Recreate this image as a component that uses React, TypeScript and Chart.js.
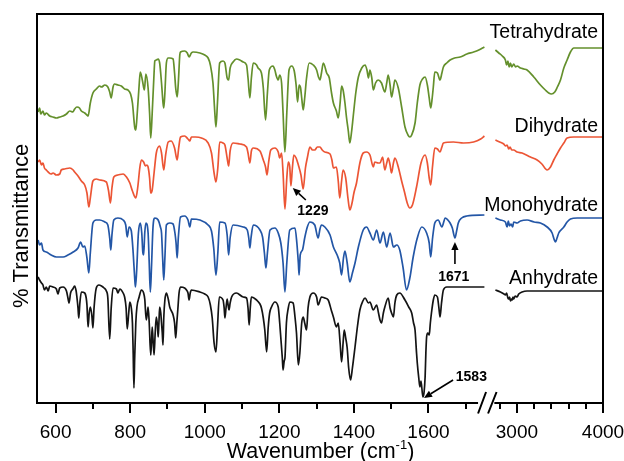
import React, { useEffect, useRef } from 'react';
import { Chart, registerables } from 'chart.js';

Chart.register(...registerables);

// ---------- broken wavenumber axis (cm-1) ----------
const lowRange = [550, 1750];
const highRange = [2750, 4000];
const breakGap = 29.5; // axis units between the two segments
const highRatio = 0.2309; // compression of the high segment
const majorTicks = [600, 800, 1000, 1200, 1400, 1600, 3000, 4000];
const minorTicks = [700, 900, 1100, 1300, 1500, 1700, 2800, 3200, 3400, 3600, 3800];

const toAxis = (v: number) =>
  v <= lowRange[1] ? v : lowRange[1] + breakGap + (v - highRange[0]) * highRatio;

// ---------- series: [wavenumber, transmittance (offset, arb. units)] ----------
const tetraLow: [number, number][] = [
  [553,291],[557,295],[560,289],[566,292],[570,288],[575,290],[584,287],[593,286],[602,285],[611,286],[620,287],[629,289],[638,292],[646,291],[651,294],[657,296],[664,295],[669,292],[678,290],[684,288],[687,287],[693,300],[700,310],[709,314],[718,317],[723,316],[732,318],[740,316],[745,311],[749,305],[754,316],[758,319],[767,318],[776,317],[785,314],[794,313],[801,309],[806,300],[812,276],[815,273],[818,285],[824,318],[827,331],[833,322],[838,313],[842,329],[848,315],[852,290],[855,265],[859,290],[864,330],[866,342],[870,343],[875,344],[879,340],[884,320],[888,300],[890,295],[893,310],[897,340],[902,345],[906,345],[915,344],[919,330],[922,315],[926,306],[929,320],[933,348],[935,351],[946,352],[953,350],[958,346],[964,350],[969,351],[987,350],[1000,348],[1009,345],[1015,338],[1022,320],[1027,290],[1030,276],[1034,300],[1040,340],[1049,342],[1054,340],[1060,325],[1064,323],[1068,335],[1076,341],[1085,344],[1094,343],[1103,341],[1112,338],[1116,325],[1121,305],[1125,325],[1130,340],[1139,338],[1143,335],[1152,330],[1157,315],[1163,283],[1168,310],[1173,333],[1183,337],[1188,333],[1192,327],[1197,323],[1201,328],[1206,320],[1210,290],[1215,251],[1220,290],[1226,333],[1233,337],[1240,332],[1245,318],[1249,301],[1253,318],[1257,315],[1260,305],[1264,293],[1268,305],[1273,325],[1280,340],[1291,338],[1300,333],[1305,326],[1309,323],[1313,330],[1318,340],[1327,330],[1334,325],[1340,310],[1345,300],[1353,292],[1358,285],[1363,300],[1367,317],[1371,313],[1376,300],[1380,286],[1385,272],[1389,260],[1394,272],[1398,286],[1405,310],[1412,326],[1421,335],[1430,338],[1435,333],[1439,325],[1443,333],[1448,325],[1452,313],[1458,320],[1465,323],[1474,320],[1483,311],[1488,320],[1492,328],[1497,318],[1501,306],[1506,315],[1510,323],[1519,315],[1528,296],[1537,276],[1545,268],[1550,266],[1555,268],[1564,280],[1570,300],[1577,318],[1584,324],[1591,326],[1597,318],[1602,305],[1606,295],[1610,305],[1613,316],[1617,331],[1624,330],[1631,323],[1636,330],[1640,336],[1649,340],[1658,343],[1670,345],[1685,346],[1703,349],[1721,351],[1735,353],[1750,356]
];
const tetraHigh: [number, number][] = [
  [2750,353],[2790,350],[2830,347],[2866,343],[2880,338],[2895,342],[2910,336],[2925,340],[2940,336],[2963,339],[2985,336],[3002,337],[3041,335],[3080,334],[3118,333],[3196,326],[3273,318],[3330,313],[3370,310],[3400,309],[3440,311],[3470,316],[3506,323],[3545,335],[3583,343],[3622,351],[3661,355],[3738,355],[3850,355],[4000,355]
];

const diLow: [number, number][] = [
  [553,241],[557,243],[562,238],[566,240],[570,235],[575,233],[580,231],[588,229],[593,230],[602,228],[611,229],[615,233],[624,234],[638,235],[647,233],[651,231],[660,227],[669,222],[678,218],[684,210],[689,196],[693,205],[700,222],[709,224],[718,223],[736,221],[742,212],[747,200],[751,215],[756,226],[767,228],[781,229],[790,226],[799,220],[806,212],[815,205],[820,215],[826,236],[830,243],[836,241],[841,237],[845,238],[848,236],[852,225],[855,210],[859,213],[864,230],[870,250],[879,257],[884,250],[890,233],[895,248],[902,261],[910,262],[919,255],[926,243],[930,255],[935,266],[946,267],[955,264],[960,262],[964,266],[975,266],[991,265],[1009,260],[1018,250],[1025,230],[1030,221],[1035,235],[1040,261],[1049,260],[1054,258],[1060,245],[1064,237],[1068,252],[1076,260],[1094,259],[1112,256],[1116,250],[1121,240],[1125,252],[1130,255],[1148,252],[1157,243],[1163,236],[1167,228],[1171,240],[1177,253],[1188,255],[1197,251],[1201,245],[1206,250],[1210,230],[1215,194],[1220,225],[1224,241],[1228,236],[1231,217],[1235,235],[1239,248],[1245,245],[1251,238],[1258,228],[1264,214],[1270,235],[1275,245],[1282,256],[1289,253],[1295,253],[1302,256],[1309,256],[1315,253],[1322,251],[1336,249],[1341,243],[1345,235],[1353,236],[1358,222],[1362,205],[1367,222],[1371,233],[1378,225],[1384,205],[1389,193],[1395,200],[1400,210],[1407,220],[1416,240],[1425,250],[1434,251],[1443,248],[1452,236],[1456,241],[1465,240],[1470,240],[1477,246],[1483,233],[1488,240],[1492,245],[1497,238],[1501,230],[1506,240],[1510,245],[1519,236],[1528,222],[1535,212],[1543,200],[1550,195],[1557,198],[1568,216],[1580,240],[1591,248],[1597,240],[1602,225],[1606,218],[1611,237],[1617,255],[1624,254],[1631,251],[1636,256],[1640,260],[1667,261],[1694,260],[1721,261],[1740,264],[1750,267]
];
const diHigh: [number, number][] = [
  [2750,263],[2800,261],[2847,259],[2870,257],[2886,258],[2905,254],[2920,256],[2940,253],[2963,253],[3002,251],[3060,250],[3157,246],[3235,243],[3290,239],[3351,233],[3390,236],[3428,243],[3466,249],[3506,255],[3545,260],[3583,265],[3661,266],[3800,266],[4000,266]
];

const monoLow: [number, number][] = [
  [553,163],[557,158],[562,160],[566,153],[575,151],[588,148],[602,146],[620,146],[633,148],[647,151],[660,155],[667,161],[673,156],[678,157],[684,145],[689,130],[693,150],[700,180],[709,183],[718,183],[732,181],[740,178],[745,165],[748,153],[751,168],[756,183],[767,185],[781,183],[788,178],[792,166],[797,176],[803,172],[808,150],[812,125],[814,116],[817,130],[822,170],[827,180],[831,170],[834,150],[836,148],[839,170],[842,180],[848,170],[851,140],[854,111],[857,135],[861,175],[866,185],[875,183],[881,176],[884,170],[887,145],[890,123],[893,145],[897,178],[906,180],[915,179],[920,170],[923,160],[926,145],[929,165],[935,186],[946,187],[955,183],[960,176],[964,184],[987,183],[1009,178],[1018,172],[1024,155],[1030,128],[1035,150],[1040,181],[1054,180],[1060,168],[1064,148],[1068,165],[1076,178],[1103,176],[1114,173],[1118,165],[1121,155],[1124,165],[1130,178],[1148,173],[1155,166],[1160,150],[1164,135],[1168,150],[1175,173],[1188,175],[1197,170],[1204,160],[1210,140],[1215,111],[1220,140],[1228,173],[1242,175],[1247,160],[1251,140],[1253,128],[1256,148],[1262,153],[1268,165],[1275,176],[1282,181],[1295,178],[1304,165],[1309,174],[1313,178],[1322,176],[1336,168],[1345,156],[1355,148],[1362,140],[1367,128],[1372,145],[1376,152],[1382,140],[1389,121],[1396,130],[1403,140],[1412,156],[1425,173],[1434,176],[1443,170],[1452,163],[1461,173],[1470,160],[1479,171],[1488,156],[1497,170],[1506,156],[1515,158],[1523,153],[1532,135],[1541,113],[1550,125],[1559,146],[1570,165],[1582,176],[1595,170],[1602,160],[1606,146],[1611,165],[1617,180],[1626,183],[1636,176],[1645,185],[1652,183],[1658,180],[1664,175],[1671,165],[1676,173],[1680,180],[1689,185],[1703,187],[1750,188]
];
const monoHigh: [number, number][] = [
  [2750,185],[2808,183],[2866,181],[2886,176],[2900,182],[2915,177],[2932,179],[2950,176],[2963,181],[3002,180],[3041,182],[3118,183],[3200,181],[3273,180],[3351,176],[3409,170],[3435,163],[3448,161],[3466,165],[3486,170],[3545,176],[3583,181],[3622,184],[3700,185],[4000,185]
];

const anLow: [number, number][] = [
  [553,126],[557,123],[562,120],[566,118],[570,113],[575,116],[580,112],[584,117],[593,116],[602,114],[606,109],[611,115],[620,116],[629,112],[633,105],[636,100],[640,110],[646,114],[651,117],[655,112],[657,106],[660,95],[662,85],[665,100],[669,111],[678,110],[682,105],[684,98],[687,76],[690,90],[693,96],[697,88],[700,75],[703,95],[709,115],[716,118],[723,117],[730,115],[736,112],[740,105],[745,64],[749,95],[754,115],[763,114],[767,110],[772,114],[776,113],[781,110],[785,106],[789,95],[792,74],[796,90],[799,101],[803,95],[806,80],[808,50],[810,15],[812,45],[815,80],[818,96],[824,106],[830,113],[836,110],[839,104],[843,83],[846,90],[848,96],[851,80],[855,48],[857,60],[859,76],[861,65],[864,48],[867,70],[870,86],[873,78],[875,66],[877,80],[879,96],[882,90],[884,80],[886,70],[888,58],[890,85],[893,103],[897,110],[902,104],[906,96],[915,88],[919,80],[922,65],[925,80],[928,95],[931,110],[935,116],[946,115],[951,113],[955,110],[958,103],[961,110],[964,113],[987,111],[1000,109],[1009,106],[1015,98],[1020,85],[1025,60],[1030,51],[1034,75],[1039,106],[1049,103],[1052,95],[1054,85],[1057,95],[1060,104],[1063,97],[1065,93],[1068,100],[1072,106],[1085,110],[1103,106],[1112,105],[1116,95],[1119,78],[1122,95],[1125,106],[1139,103],[1148,99],[1152,95],[1157,85],[1161,73],[1166,51],[1170,75],[1174,90],[1179,96],[1188,101],[1197,96],[1201,80],[1204,65],[1208,45],[1210,33],[1213,42],[1215,45],[1219,80],[1224,95],[1228,101],[1237,100],[1242,86],[1246,70],[1251,38],[1255,50],[1260,80],[1264,86],[1268,80],[1273,73],[1277,95],[1282,106],[1291,110],[1300,106],[1304,98],[1313,106],[1322,105],[1331,103],[1340,92],[1345,86],[1353,76],[1358,80],[1363,60],[1367,41],[1371,60],[1374,73],[1378,65],[1382,55],[1386,35],[1391,23],[1396,35],[1403,56],[1410,78],[1416,93],[1424,102],[1430,105],[1439,100],[1443,101],[1452,93],[1461,98],[1466,90],[1470,83],[1474,80],[1479,90],[1483,96],[1492,105],[1497,95],[1501,90],[1506,86],[1510,100],[1515,108],[1523,110],[1537,103],[1547,96],[1555,90],[1560,80],[1564,73],[1568,50],[1570,40],[1574,25],[1577,16],[1580,22],[1585,6],[1588,10],[1591,26],[1593,50],[1595,66],[1598,70],[1602,68],[1605,80],[1608,90],[1613,103],[1617,108],[1624,106],[1628,95],[1631,86],[1635,100],[1640,113],[1649,116],[1703,116],[1750,116]
];
const anHigh: [number, number][] = [
  [2750,113],[2808,111],[2850,109],[2866,108],[2880,110],[2895,105],[2905,104],[2915,106],[2925,102],[2935,104],[2944,103],[2955,106],[2963,104],[2980,107],[3002,106],[3021,109],[3060,111],[3118,112],[3300,112],[4000,112]
];

const seriesNames = ['Tetrahydrate', 'Dihydrate', 'Monohydrate', 'Anhydrate'];
const seriesColors = ['#64902c', '#ec5535', '#2356a6', '#141414'];
const seriesParts = [
  [tetraLow, tetraHigh],
  [diLow, diHigh],
  [monoLow, monoHigh],
  [anLow, anHigh],
];

// peak annotations: label position and arrow (wavenumber, value)
const annotations = [
  { text: '1229', at: [1290, 192], from: [1271, 203], tip: [1236, 215] },
  { text: '1671', at: [1668, 126], from: [1671, 139], tip: [1671, 161] },
  { text: '1583', at: [1715, 25.5], from: [1666, 23], tip: [1588, 5] },
];

const FONT = "'Liberation Sans', Arial, Helvetica, sans-serif";

const decor = {
  id: 'decor',
  afterDraw(chart: any) {
    const { ctx, chartArea: a, scales } = chart;
    const xs = scales.x;
    const ys = scales.y;
    const px = (v: number) => xs.getPixelForValue(toAxis(v));
    const py = (t: number) => ys.getPixelForValue(t);
    ctx.save();
    ctx.strokeStyle = '#000';
    ctx.fillStyle = '#000';
    ctx.lineWidth = 2;
    ctx.lineCap = 'butt';

    // frame
    ctx.beginPath();
    ctx.moveTo(a.left, a.bottom + 1);
    ctx.lineTo(a.left, a.top);
    ctx.lineTo(a.right, a.top);
    ctx.lineTo(a.right, a.bottom + 1);
    ctx.stroke();

    const leftEnd = px(1733);
    const rightStart = px(2738);
    ctx.beginPath();
    ctx.moveTo(a.left - 1, a.bottom);
    ctx.lineTo(leftEnd, a.bottom);
    ctx.moveTo(rightStart, a.bottom);
    ctx.lineTo(a.right + 1, a.bottom);
    ctx.stroke();

    // break marks
    ctx.beginPath();
    ctx.moveTo(leftEnd, a.bottom + 10.5);
    ctx.lineTo(leftEnd + 8, a.bottom - 11);
    ctx.moveTo(leftEnd + 10, a.bottom + 10.5);
    ctx.lineTo(leftEnd + 18.5, a.bottom - 11);
    ctx.stroke();

    // ticks
    ctx.beginPath();
    majorTicks.forEach((v) => {
      const x = Math.round(px(v));
      ctx.moveTo(x, a.bottom);
      ctx.lineTo(x, a.bottom + 10);
    });
    minorTicks.forEach((v) => {
      const x = Math.round(px(v));
      ctx.moveTo(x, a.bottom);
      ctx.lineTo(x, a.bottom + 6);
    });
    ctx.stroke();

    // tick labels
    ctx.font = `19px ${FONT}`;
    ctx.textAlign = 'center';
    ctx.textBaseline = 'alphabetic';
    majorTicks.forEach((v) => ctx.fillText(String(v), px(v), a.bottom + 35));

    // x title with superscript
    const t1 = 'Wavenumber (cm';
    const sup = '-1';
    const t3 = ')';
    ctx.font = `21.5px ${FONT}`;
    const w1 = ctx.measureText(t1).width;
    const w3 = ctx.measureText(t3).width;
    ctx.font = `13px ${FONT}`;
    const w2 = ctx.measureText(sup).width;
    const total = w1 + w2 + w3;
    const cx = 320.5;
    const sx = cx - total / 2;
    const base = a.bottom + 55;
    ctx.textAlign = 'left';
    ctx.font = `21.5px ${FONT}`;
    ctx.fillText(t1, sx, base);
    ctx.font = `13px ${FONT}`;
    ctx.fillText(sup, sx + w1, base - 9);
    ctx.font = `21.5px ${FONT}`;
    ctx.fillText(t3, sx + w1 + w2, base);

    // y title
    ctx.save();
    ctx.translate(28, 226);
    ctx.rotate(-Math.PI / 2);
    ctx.font = `22px ${FONT}`;
    ctx.textAlign = 'center';
    ctx.fillText('% Transmittance', 0, 0);
    ctx.restore();

    // series labels
    const labelBase = [38, 131.5, 210.5, 284];
    ctx.font = `19.5px ${FONT}`;
    ctx.textAlign = 'right';
    seriesNames.forEach((n, i) => ctx.fillText(n, a.right - 5, labelBase[i]));

    // annotations
    ctx.font = `bold 14px ${FONT}`;
    ctx.textAlign = 'center';
    ctx.textBaseline = 'middle';
    ctx.lineWidth = 1.6;
    annotations.forEach((an) => {
      ctx.fillText(an.text, px(an.at[0]), py(an.at[1]));
      const x0 = px(an.from[0]);
      const y0 = py(an.from[1]);
      const x1 = px(an.tip[0]);
      const y1 = py(an.tip[1]);
      const ang = Math.atan2(y1 - y0, x1 - x0);
      const hl = 8;
      const hw = 3.6;
      const bx = x1 - hl * Math.cos(ang);
      const by = y1 - hl * Math.sin(ang);
      ctx.beginPath();
      ctx.moveTo(x0, y0);
      ctx.lineTo(bx, by);
      ctx.stroke();
      ctx.beginPath();
      ctx.moveTo(x1, y1);
      ctx.lineTo(bx + hw * Math.sin(ang), by - hw * Math.cos(ang));
      ctx.lineTo(bx - hw * Math.sin(ang), by + hw * Math.cos(ang));
      ctx.closePath();
      ctx.fill();
    });
    ctx.restore();
  },
};

export default function App() {
  const ref = useRef<HTMLCanvasElement>(null);
  useEffect(() => {
    const datasets = seriesParts.map(([low, high], i) => ({
      label: seriesNames[i],
      data: [
        ...low.map(([v, t]) => ({ x: toAxis(v), y: t })),
        { x: (toAxis(lowRange[1]) + toAxis(highRange[0])) / 2, y: null },
        ...high.map(([v, t]) => ({ x: toAxis(v), y: t })),
      ],
      borderColor: seriesColors[i],
      backgroundColor: seriesColors[i],
      borderWidth: 1.7,
      pointRadius: 0,
      fill: false,
      spanGaps: false,
      cubicInterpolationMode: 'monotone' as const,
    }));
    const chart = new Chart(ref.current as HTMLCanvasElement, {
      type: 'line',
      data: { datasets: datasets as any },
      options: {
        animation: false,
        responsive: true,
        maintainAspectRatio: false,
        devicePixelRatio: 1,
        layout: { padding: { left: 37, top: 14, right: 21, bottom: 58 } },
        plugins: { legend: { display: false }, tooltip: { enabled: false } },
        scales: {
          x: { type: 'linear', min: lowRange[0], max: toAxis(highRange[1]), display: false },
          y: { type: 'linear', min: 0, max: 389, display: false },
        },
      },
      plugins: [decor],
    });
    return () => chart.destroy();
  }, []);
  return (
    <div style={{ position: 'fixed', left: 0, top: 0, width: 624, height: 461, background: '#fff' }}>
      <canvas ref={ref} />
    </div>
  );
}
